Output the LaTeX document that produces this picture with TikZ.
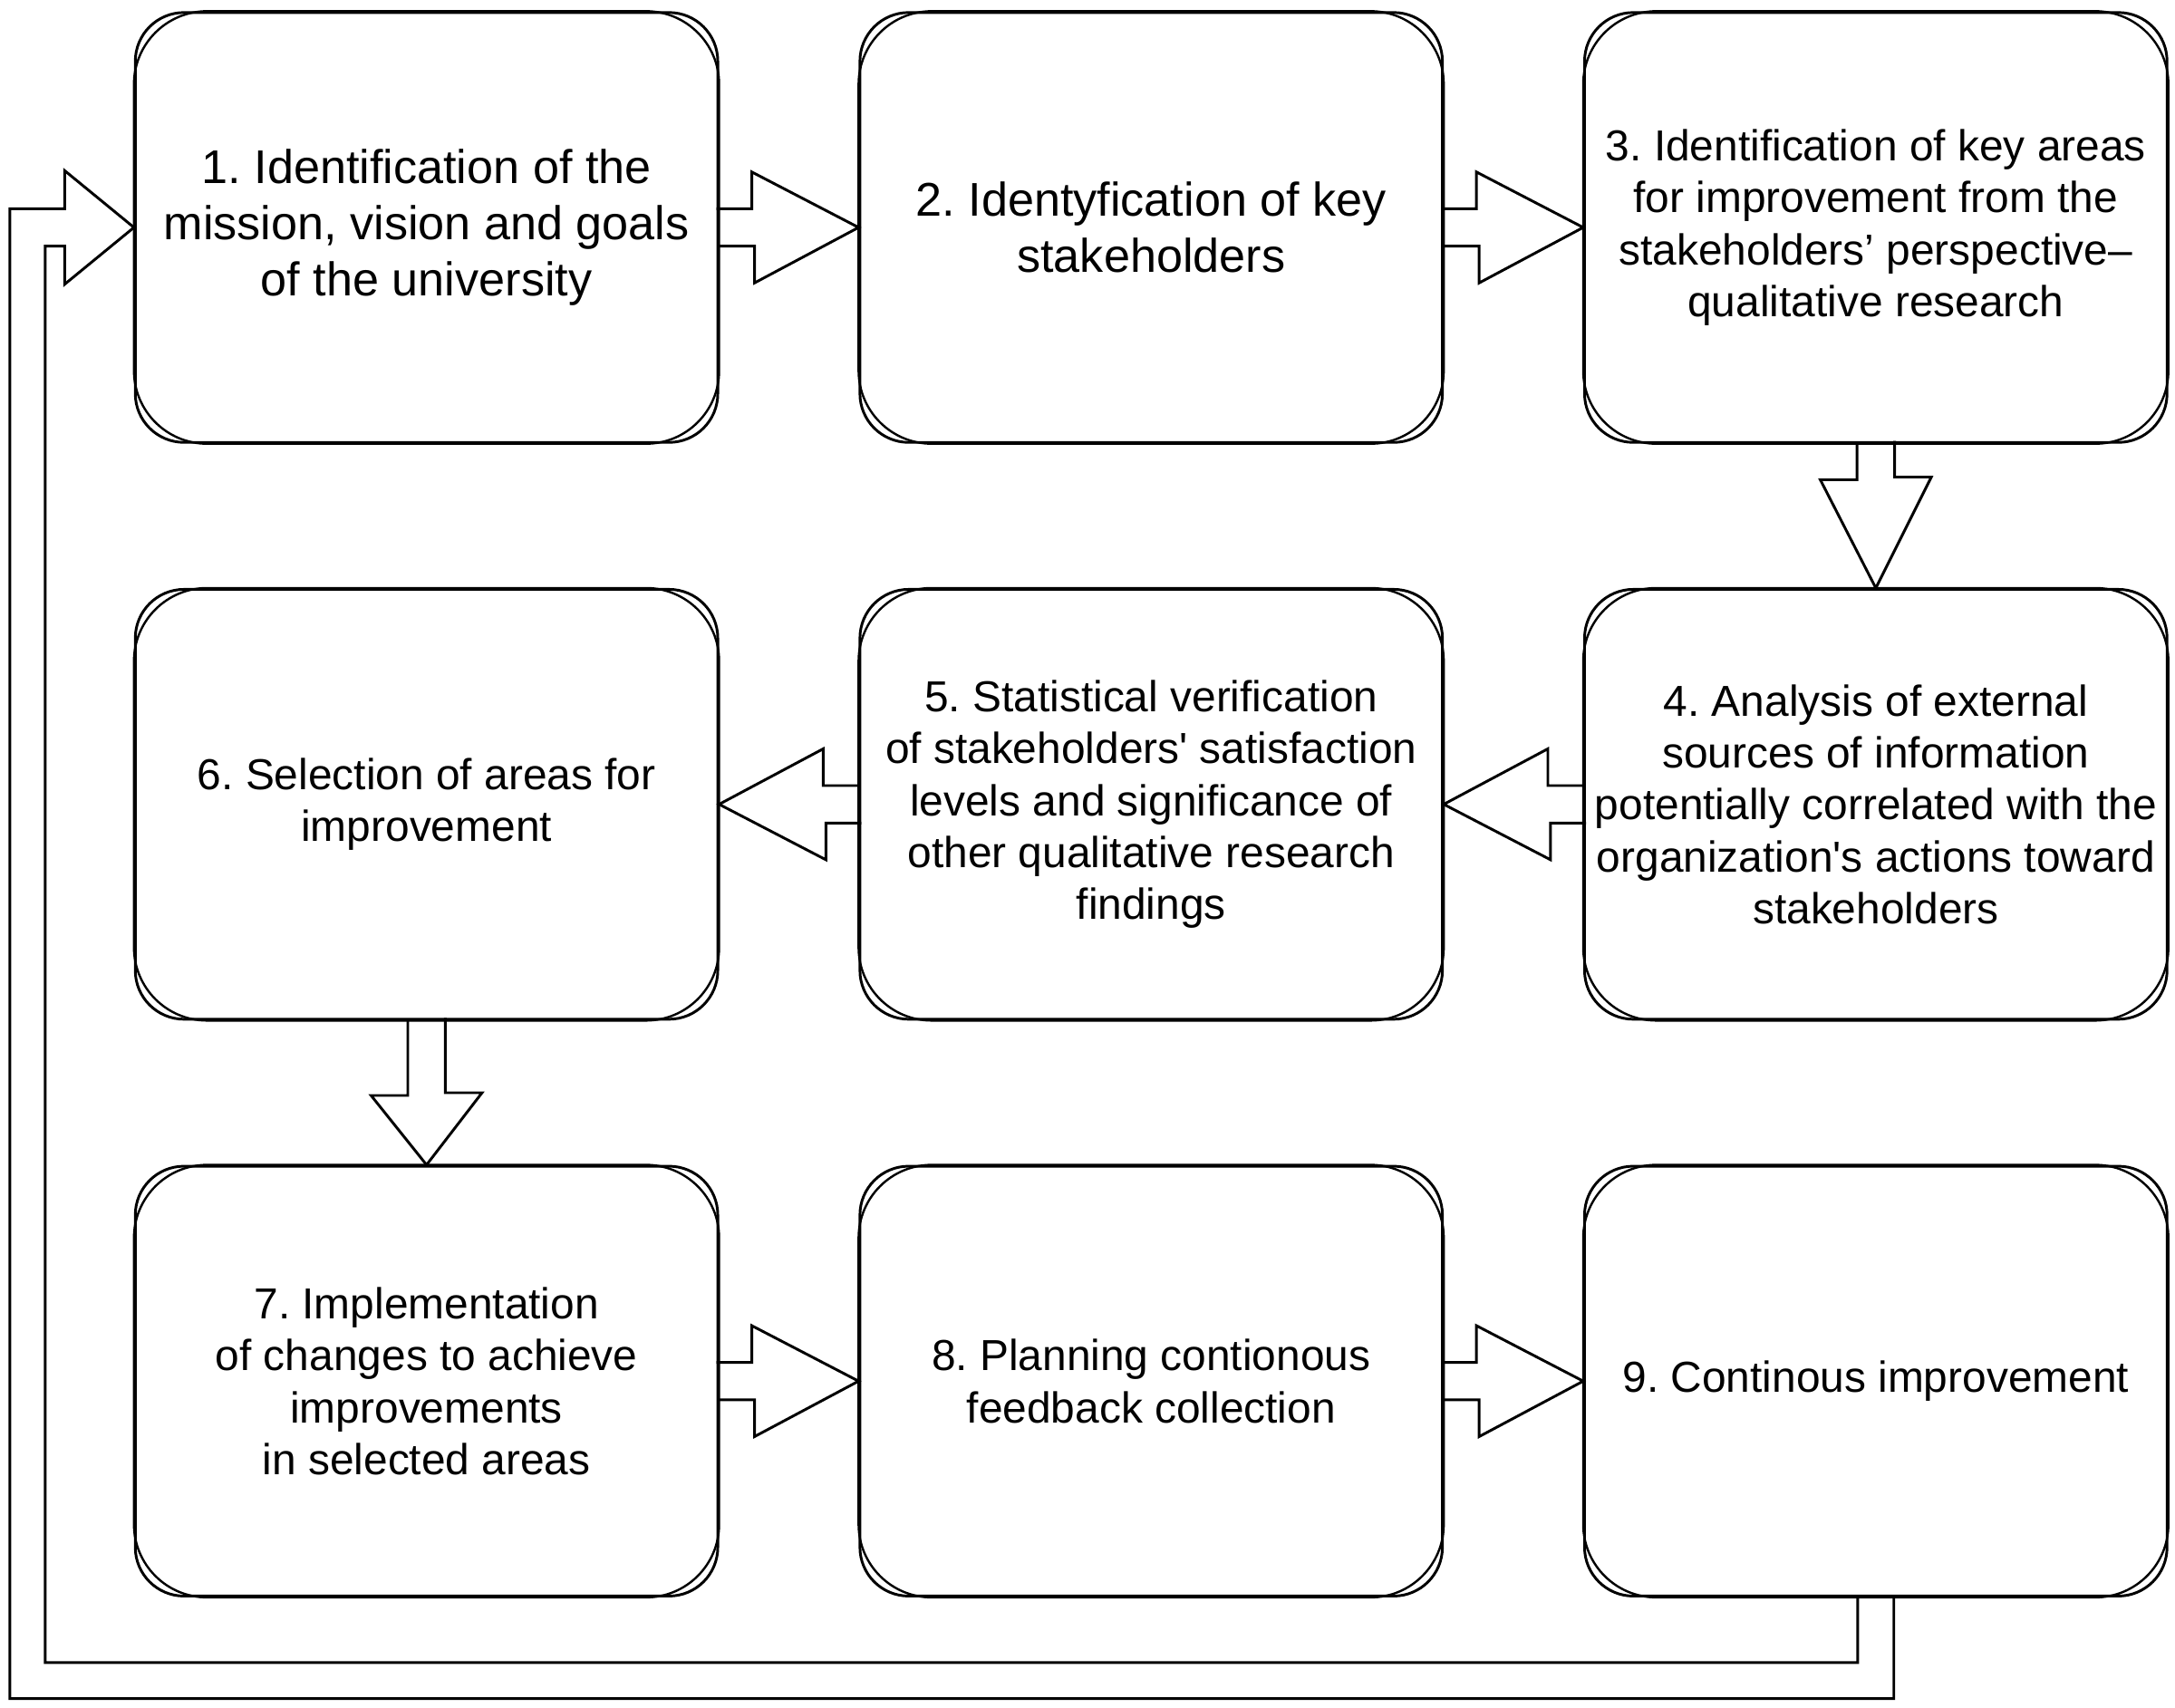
\documentclass[tikz,border=0pt]{standalone}
\usepackage{fontspec}
\setmainfont{Liberation Sans}
\frenchspacing
\usetikzlibrary{positioning, calc}

\tikzset{
    stage/.style={draw, line width=1.1pt, rounded corners=20pt, minimum width=8.4cm, minimum height=6.2cm,
        align=center, inner sep=2pt, font=\fontsize{17.8}{21.3}\selectfont},
    bigstage/.style={stage, font=\fontsize{19.4}{23}\selectfont},
    blockarrow/.style={line width=1.1pt, line join=miter}
}

% block arrow: from, to, angle, shaft, head
\newcommand{\flowarrow}[5]{%
    \draw[blockarrow, rotate=#3] (#1) ++(0,13.5) -- ++(#4,0) -- ++(0,26.5) -- (#2)
        -- ++(-#5,-40) -- ++(0,26.5) -- ++(-#4,0);
}

\begin{document}
\begin{tikzpicture}[x=0.02cm, y=-0.02cm, node distance=8.32cm and 10.45cm, on grid]
    \useasboundingbox (0,0) rectangle (1568,1231);

    \node[bigstage] (s_1) at (307.5,164) {1. Identification of the\\mission, vision and goals\\of the university};
    \node[bigstage] (s_2) [right=of s_1] {2. Identyfication of key\\stakeholders};
    \node[stage] (s_3) [right=of s_2] {3. Identification of key areas\\for improvement from the\\stakeholders’ perspective–\\qualitative research};
    \node[stage] (s_4) [below=of s_3] {4. Analysis of external\\sources of information\\potentially correlated with the\\organization\textquotesingle s actions toward\\stakeholders};
    \node[stage] (s_5) [below=of s_2] {5. Statistical verification\\of stakeholders\textquotesingle\ satisfaction\\levels and significance of\\other qualitative research\\findings};
    \node[stage] (s_6) [below=of s_1] {6. Selection of areas for\\improvement};
    \node[stage] (s_7) [below=of s_6] {7. Implementation\\of changes to achieve\\improvements\\in selected areas};
    \node[stage] (s_8) [right=of s_7] {8. Planning contionous\\feedback collection};
    \node[stage] (s_9) [right=of s_8] {9. Continous improvement};

    % second hand-drawn outline
    \foreach \i in {1,...,9}
        \draw[line width=0.9pt, rounded corners=30pt] (s_\i.south west) rectangle (s_\i.north east);

    \flowarrow{s_1.east}{s_2.west}{0}{25.5}{77}
    \flowarrow{s_2.east}{s_3.west}{0}{25.5}{77}
    \flowarrow{s_3.south}{s_4.north}{-90}{26}{80}
    \flowarrow{s_4.west}{s_5.east}{180}{25.5}{77}
    \flowarrow{s_5.west}{s_6.east}{180}{25.5}{77}
    \flowarrow{s_6.south}{s_7.north}{-90}{54}{52}
    \flowarrow{s_7.east}{s_8.west}{0}{25.5}{77}
    \flowarrow{s_8.east}{s_9.west}{0}{25.5}{77}

    % feedback loop
    \draw[blockarrow] ($(s_9.south)+(-13,0)$) -- ++(0,47) -| ($(s_1.west)+(-64,13.5)$)
        -- ++(14,0) -- ++(0,27.5) -- (s_1.west) -- ++(-50,-41) -- ++(0,27.5) -- ++(-39.5,0)
        |- ($(s_9.south)+(13,73)$) -- ($(s_9.south)+(13,0)$);
\end{tikzpicture}
\end{document}
